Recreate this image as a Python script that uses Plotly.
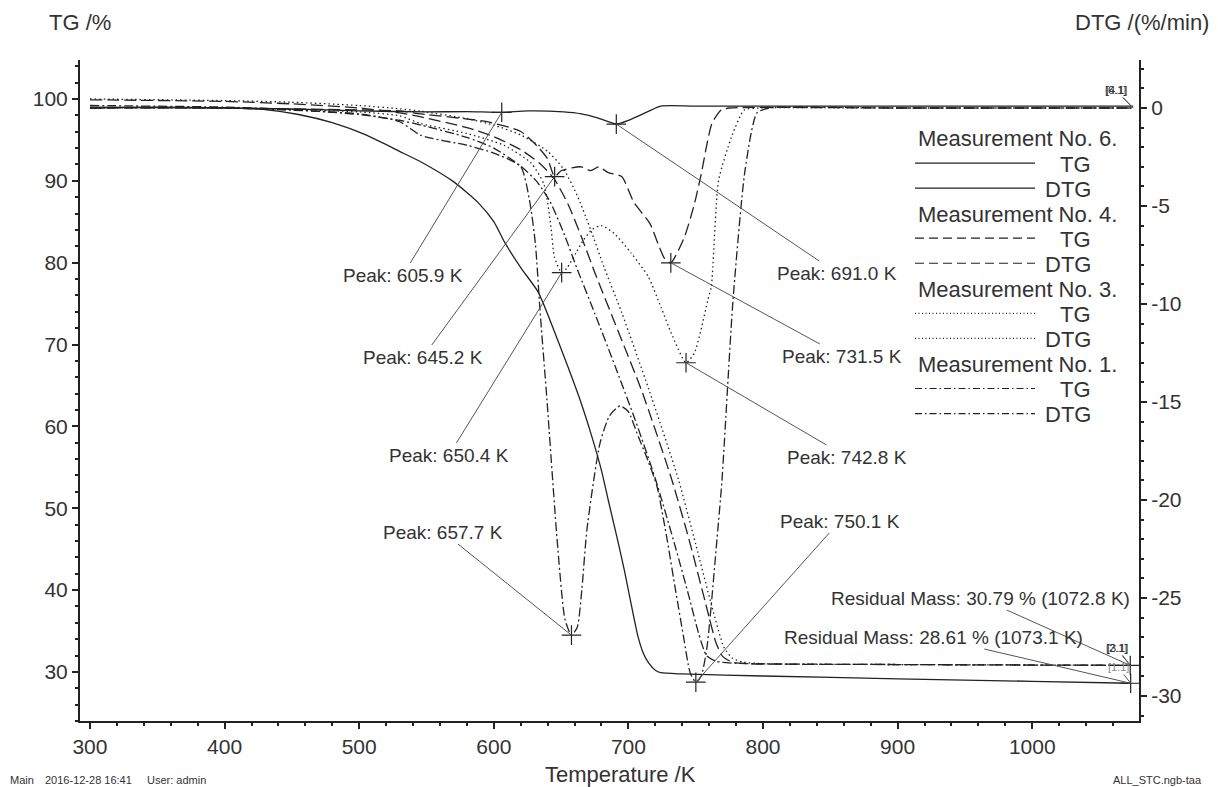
import numpy as np
import plotly.graph_objects as go

# ---------------- data ----------------
# Measurement No. 6 (solid)
T_tg6 = [300, 350, 400, 430, 455, 480, 505, 530, 546, 570, 588, 600, 608, 620, 633, 645, 655, 665,
         672, 680, 685, 692, 697, 702, 707, 711, 715, 720, 724, 740, 800, 900, 1000, 1073.1]
TG6 = [98.9, 99.0, 98.9, 98.7, 98.1, 97.1, 95.6, 93.6, 92.3, 89.9, 87.4, 85.0, 82.5, 79.4, 76.4, 71.6,
       67.3, 62.8, 59.2, 54.6, 51.0, 46.1, 42.4, 38.3, 34.4, 32.3, 31.1, 30.2, 29.9, 29.75, 29.5, 29.15,
       28.85, 28.61]
T_dtg6 = [300, 400, 450, 500, 550, 580, 605.9, 625, 652, 665, 677, 691.0, 701, 714, 724, 750, 900, 1075]
DTG6 = [0.05, 0.0, -0.05, -0.15, -0.2, -0.18, -0.22, -0.15, -0.2, -0.3, -0.5, -0.82, -0.6, -0.2, 0.1,
        0.1, 0.1, 0.1]

# Measurement No. 4 (dashed)
T_tg4 = [300, 400, 450, 500, 530, 546, 580, 600, 620, 635, 645, 655, 665, 675, 690, 710, 732, 745,
         757, 765, 770, 777, 790, 900, 1072.8]
TG4 = [99.9, 99.7, 99.4, 98.9, 98.3, 97.8, 96.5, 95.4, 93.8, 92.0, 90.2, 87.2, 83.2, 78.8, 72.6, 64.3,
       53.6, 46.2, 38.6, 33.6, 31.9, 31.2, 31.0, 30.9, 30.8]
T_dtg4 = [300, 400, 500, 530, 546, 595, 620, 633, 640, 645.2, 650, 658, 665, 672, 678, 685, 695, 704,
          716, 723, 727, 731.5, 741.5, 749, 754, 762, 769, 775, 900, 1075]
DTG4 = [0.0, 0.0, -0.1, -0.15, -0.3, -0.7, -1.2, -2.0, -2.6, -3.5, -3.2, -3.05, -3.0, -3.2, -3.0, -3.3,
        -3.5, -4.8, -5.9, -7.1, -7.7, -7.9, -6.6, -4.9, -3.4, -0.8, -0.1, 0.0, 0.0, 0.0]

# Measurement No. 3 (dotted)
T_tg3 = [300, 400, 450, 500, 530, 546, 580, 600, 620, 640, 652, 662, 672, 682, 695, 715, 737, 750,
         762, 771, 777, 785, 800, 900, 1072.8]
TG3 = [100.0, 99.8, 99.6, 99.2, 98.8, 98.5, 97.6, 96.8, 95.6, 93.6, 91.4, 88.2, 84.0, 79.4, 73.9, 64.6,
       53.6, 45.6, 38.0, 33.0, 31.7, 31.2, 31.0, 30.9, 30.79]
T_dtg3 = [300, 400, 500, 530, 546, 580, 607.5, 627.6, 637.3, 642.5, 645, 650.4, 654, 661, 666, 673,
          680, 689.4, 702, 714.7, 724.4, 731.9, 742.8, 749, 754, 759, 761.6, 767, 776.5, 786, 797, 900, 1075]
DTG3 = [0.0, 0.0, -0.2, -0.4, -0.8, -1.3, -1.9, -2.8, -3.9, -6.1, -7.6, -8.4, -8.2, -7.4, -6.8, -6.2,
        -6.0, -6.4, -7.4, -8.6, -10.2, -11.5, -13.0, -12.5, -11.3, -9.8, -9.1, -3.7, -1.5, -0.1, 0.0, 0.0, 0.0]

# Measurement No. 1 (dash-dot)
T_tg1 = [300, 400, 450, 500, 530, 546, 580, 600, 620, 632, 642, 652, 662, 675, 690, 705, 720, 735,
         745, 752, 758, 765, 780, 900, 1072.8]
TG1 = [99.2, 99.0, 98.7, 98.1, 97.4, 96.8, 95.3, 94.0, 91.8, 89.9, 87.4, 83.6, 79.2, 73.8, 67.4, 60.8,
       53.6, 45.2, 39.2, 34.8, 32.0, 31.3, 31.05, 30.9, 30.8]
T_dtg1 = [300, 400, 500, 530, 546, 580, 600, 620, 627, 631, 634.3, 639.5, 647, 652.9, 657.7, 662,
          665.5, 669.2, 678.9, 686, 693.8, 700, 706.4, 714, 721.2, 728.7, 735, 741, 745.8, 750.1, 754,
          758.4, 765.8, 769.5, 777.7, 786.6, 795.5, 805, 900, 1075]
DTG1 = [0.0, 0.0, -0.3, -0.7, -1.4, -1.9, -2.3, -3.0, -4.9, -7.0, -10.3, -14.9, -22.0, -26.1, -26.9,
        -26.5, -24.5, -21.5, -17.1, -15.7, -15.2, -15.5, -16.6, -17.9, -19.3, -22.0, -24.6, -27.0, -28.8,
        -29.3, -29.0, -27.5, -22.0, -19.0, -9.8, -3.2, -0.25, 0.0, 0.0, 0.0]

# Peak evaluations
peak_T = [605.9, 645.2, 650.4, 657.7, 691.0, 731.5, 742.8, 750.1]
peak_meas = ["6", "4", "3", "1", "6", "4", "3", "1"]
peak_labels = ["Peak: 605.9 K", "Peak: 645.2 K", "Peak: 650.4 K", "Peak: 657.7 K",
               "Peak: 691.0 K", "Peak: 731.5 K", "Peak: 742.8 K", "Peak: 750.1 K"]

# Residual mass evaluations
res_T = [1072.8, 1073.1]
res_mass = [30.79, 28.61]
res_meas = ["3", "6"]
res_labels = ["Residual Mass: 30.79 % (1072.8 K)", "Residual Mass: 28.61 % (1073.1 K)"]

meas_order = ["6", "4", "3", "1"]
series = {
    "6": (T_tg6, TG6, T_dtg6, DTG6),
    "4": (T_tg4, TG4, T_dtg4, DTG4),
    "3": (T_tg3, TG3, T_dtg3, DTG3),
    "1": (T_tg1, TG1, T_dtg1, DTG1),
}

# ---------------- styling ----------------
FONT = "Liberation Sans, Arial, Helvetica, sans-serif"
INK = "#222222"
TXT = "#333333"
LEAD = "#555555"
dash_style = {"6": "solid", "4": "12px,5px", "3": "1.5px,3px", "1": "9px,3px,2px,3px"}
legend_dash = {"6": "solid", "4": "9px,5px", "3": "1px,2.5px", "1": "7px,3px,1.5px,3px"}

W, H = 1218, 787
X0, X1, Y0, Y1 = 80, 1139, 60, 721   # plot area in pixels
x_range = [292.6, 1079.3]
y_range = [24.0, 104.76]
y2_range = [-31.28, 2.45]


def px_x(px):
    return (px - X0) / (X1 - X0)


def px_y(py):
    return (Y1 - py) / (Y1 - Y0)


def px_to_T(px):
    return x_range[0] + (px - X0) * (x_range[1] - x_range[0]) / (X1 - X0)


def py_to_y(py, rng):
    return rng[1] - (py - Y0) * (rng[1] - rng[0]) / (Y1 - Y0)


fig = go.Figure()

for m in meas_order:
    t_tg, tg, t_dtg, dtg = series[m]
    fig.add_trace(go.Scatter(x=t_tg, y=tg, mode="lines", yaxis="y",
                             line=dict(color=INK, width=1.3, dash=dash_style[m], shape="spline", smoothing=0.6),
                             showlegend=False, hoverinfo="skip"))
    fig.add_trace(go.Scatter(x=t_dtg, y=dtg, mode="lines", yaxis="y2",
                             line=dict(color=INK, width=1.3, dash=dash_style[m], shape="spline", smoothing=0.6),
                             showlegend=False, hoverinfo="skip"))

# peak markers
pk_y = [float(np.interp(t, series[m][2], series[m][3])) for t, m in zip(peak_T, peak_meas)]
fig.add_trace(go.Scatter(x=peak_T, y=pk_y, mode="markers", yaxis="y2",
                         marker=dict(symbol="cross-thin", size=14, line=dict(color=INK, width=1.2)),
                         showlegend=False, hoverinfo="skip"))
# residual markers
fig.add_trace(go.Scatter(x=res_T, y=res_mass, mode="markers", yaxis="y",
                         marker=dict(symbol="cross-thin", size=14, line=dict(color=INK, width=1.2)),
                         showlegend=False, hoverinfo="skip"))

annotations = []
# label positions (tail of leader line) in pixels
peak_label_px = [(403, 275), (423, 357), (449, 455), (443, 532),
                 (837, 273), (842, 356), (847, 457), (840, 521)]

for t, yv, lab, (lx, ly) in zip(peak_T, pk_y, peak_labels, peak_label_px):
    annotations.append(dict(x=t, y=yv, xref="x", yref="y2", text=lab,
                            ax=px_to_T(lx), ay=py_to_y(ly, y2_range), axref="x", ayref="y2",
                            showarrow=True, arrowhead=0, arrowwidth=1, arrowcolor=LEAD,
                            font=dict(family=FONT, size=19, color=TXT)))

res_label_px = [(980, 598), (933, 637)]
for t, yv, lab, (lx, ly) in zip(res_T, res_mass, res_labels, res_label_px):
    annotations.append(dict(x=t, y=yv, xref="x", yref="y", text=lab,
                            ax=px_to_T(lx), ay=py_to_y(ly, y_range), axref="x", ayref="y",
                            showarrow=True, arrowhead=0, arrowwidth=1, arrowcolor=LEAD,
                            font=dict(family=FONT, size=19, color=TXT)))

# curve end tags
tag_specs = [("[6.1]", 1075, 0.0, "y2", (1115, 90), "#333"),
             ("[4.1]", 1075, 0.0, "y2", (1116, 90), "#333"),
             ("[2.1]", 1072.8, 30.79, "y", (1116, 648), "#333"),
             ("[3.1]", 1072.8, 30.79, "y", (1117, 648), "#333"),
             ("[1.1]", 1073.1, 28.61, "y", (1118, 667), "#888")]
for txt, tx, ty, yr, (lx, ly), col in tag_specs:
    rng = y2_range if yr == "y2" else y_range
    annotations.append(dict(x=tx, y=ty, xref="x", yref=yr, text=txt,
                            ax=px_to_T(lx), ay=py_to_y(ly, rng), axref="x", ayref=yr,
                            showarrow=True, arrowhead=0, arrowwidth=1, arrowcolor=LEAD,
                            font=dict(family=FONT, size=11, color=col)))

# legend
shapes = []
leg_rows = [139 + 25.05 * k for k in range(12)]
for i, m in enumerate(meas_order):
    r0 = leg_rows[3 * i]
    annotations.append(dict(x=px_x(916), y=px_y(r0), xref="paper", yref="paper",
                            text=f"Measurement No. {m}.", showarrow=False, xanchor="left", yanchor="middle",
                            font=dict(family=FONT, size=22, color=TXT)))
    for j, lab in enumerate(["TG", "DTG"]):
        ry = leg_rows[3 * i + 1 + j]
        shapes.append(dict(type="line", xref="paper", yref="paper",
                           x0=px_x(915), x1=px_x(1035), y0=px_y(ry - 1), y1=px_y(ry - 1),
                           line=dict(color=INK, width=1.2, dash=legend_dash[m])))
        annotations.append(dict(x=px_x(1093), y=px_y(ry), xref="paper", yref="paper",
                                text=lab, showarrow=False, xanchor="right", yanchor="middle",
                                font=dict(family=FONT, size=22, color=TXT)))

# axis titles and footer
annotations += [
    dict(x=px_x(80), y=px_y(23), xref="paper", yref="paper", text="TG /%", showarrow=False,
         xanchor="center", yanchor="middle", font=dict(family=FONT, size=22, color=TXT)),
    dict(x=px_x(1211), y=px_y(23), xref="paper", yref="paper", text="DTG /(%/min)", showarrow=False,
         xanchor="right", yanchor="middle", font=dict(family=FONT, size=22, color=TXT)),
    dict(x=px_x(620), y=px_y(775), xref="paper", yref="paper", text="Temperature /K", showarrow=False,
         xanchor="center", yanchor="middle", font=dict(family=FONT, size=22, color=TXT)),
    dict(x=px_x(8), y=px_y(780), xref="paper", yref="paper", text="Main", showarrow=False,
         xanchor="left", yanchor="middle", font=dict(family=FONT, size=11, color=TXT)),
    dict(x=px_x(43), y=px_y(780), xref="paper", yref="paper", text="2016-12-28 16:41", showarrow=False,
         xanchor="left", yanchor="middle", font=dict(family=FONT, size=11, color=TXT)),
    dict(x=px_x(145), y=px_y(780), xref="paper", yref="paper", text="User: admin", showarrow=False,
         xanchor="left", yanchor="middle", font=dict(family=FONT, size=11, color=TXT)),
    dict(x=px_x(1204), y=px_y(780), xref="paper", yref="paper", text="ALL_STC.ngb-taa", showarrow=False,
         xanchor="right", yanchor="middle", font=dict(family=FONT, size=11, color=TXT)),
]

axis_common = dict(showgrid=False, zeroline=False, showline=True, linecolor=INK, linewidth=2,
                   ticks="outside", tickcolor=INK, tickwidth=1.5, ticklen=6,
                   tickfont=dict(family=FONT, size=21, color=TXT))

fig.update_layout(
    width=W, height=H, autosize=False,
    margin=dict(l=X0, r=W - X1, t=Y0, b=H - Y1, pad=0),
    paper_bgcolor="white", plot_bgcolor="white",
    showlegend=False,
    xaxis=dict(range=x_range, tickvals=[300, 400, 500, 600, 700, 800, 900, 1000],
               minor=dict(dtick=20, tick0=300, ticks="outside", ticklen=3, tickcolor=INK, tickwidth=1.5),
               **axis_common),
    yaxis=dict(range=y_range, tickvals=[30, 40, 50, 60, 70, 80, 90, 100],
               minor=dict(dtick=2, tick0=30, ticks="outside", ticklen=3, tickcolor=INK, tickwidth=1.5),
               **axis_common),
    yaxis2=dict(range=y2_range, overlaying="y", side="right", anchor="x",
                tickvals=[-30, -25, -20, -15, -10, -5, 0], ticktext=["-30", "-25", "-20", "-15", "-10", "-5", "0"],
                minor=dict(dtick=1, tick0=0, ticks="outside", ticklen=3, tickcolor=INK, tickwidth=1.5),
                **axis_common),
    annotations=annotations,
    shapes=shapes,
)

fig.write_html("out.html")
